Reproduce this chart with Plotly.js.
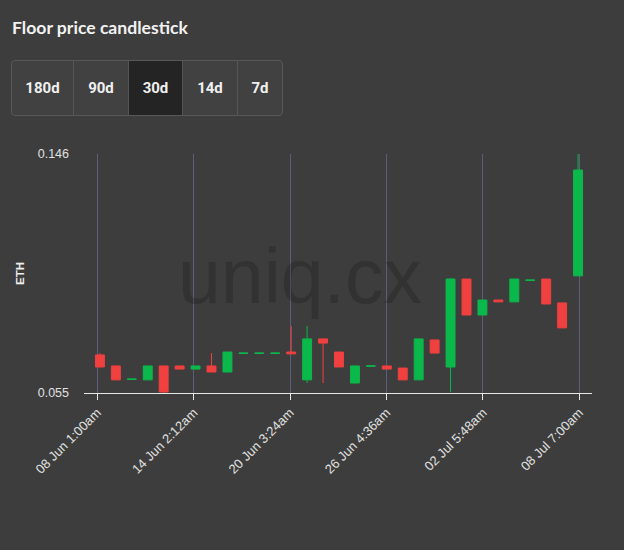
<!DOCTYPE html>
<html>
<head>
<meta charset="utf-8">
<script src="https://cdn.plot.ly/plotly-3.0.1.min.js"></script>
<style>
  html, body { margin: 0; padding: 0; background: #3d3d3d; width: 624px; height: 550px; overflow: hidden; }
  #chart { position: absolute; left: 0; top: 0; width: 624px; height: 550px; }
  #hdr { position: absolute; left: 12px; top: 17px; font-family: Lato, "Noto Sans", sans-serif; font-weight: 700; font-size: 17.6px; color: #f2f2f2; z-index: 2; }
  #btns { position: absolute; left: 11px; top: 60px; height: 54px; display: flex; border: 1px solid #585858; border-radius: 4px; overflow: hidden; z-index: 2; background: #414141; }
  .b { font-family: Roboto, "Liberation Sans", sans-serif; font-weight: 700; font-size: 15px; color: #f0f0f0; display: flex; align-items: center; justify-content: center; border-right: 1px solid #555; }
  .b:last-child { border-right: none; }
  .sel { background: #242424; }
</style>
</head>
<body>
<div id="chart"></div>
<div id="hdr">Floor price candlestick</div>
<div id="btns"></div>
<script>
const ranges = ["180d", "90d", "30d", "14d", "7d"];
const rangeWidths = [61, 54, 53, 54, 44];
const selectedRange = "30d";

const dates = [
  "2022-06-08 05:00", "2022-06-09 05:00", "2022-06-10 05:00", "2022-06-11 05:00", "2022-06-12 05:00",
  "2022-06-13 05:00", "2022-06-14 05:00", "2022-06-15 05:00", "2022-06-16 05:00", "2022-06-17 05:00",
  "2022-06-18 05:00", "2022-06-19 05:00", "2022-06-20 05:00", "2022-06-21 05:00", "2022-06-22 05:00",
  "2022-06-23 05:00", "2022-06-24 05:00", "2022-06-25 05:00", "2022-06-26 05:00", "2022-06-27 05:00",
  "2022-06-28 05:00", "2022-06-29 05:00", "2022-06-30 05:00", "2022-07-01 05:00", "2022-07-02 05:00",
  "2022-07-03 05:00", "2022-07-04 05:00", "2022-07-05 05:00", "2022-07-06 05:00", "2022-07-07 05:00",
  "2022-07-08 05:00"
];
const openP  = [0.0695, 0.0653, 0.0602, 0.0600, 0.0653, 0.0653, 0.0641, 0.0653, 0.0630, 0.0701,
                0.0701, 0.0701, 0.0706, 0.0600, 0.0756, 0.0706, 0.0588, 0.0652, 0.0653, 0.0645,
                0.0600, 0.0752, 0.0649, 0.0984, 0.0847, 0.0904, 0.0897, 0.0979, 0.0984, 0.0893,
                0.0996];
const highP  = [0.0702, 0.0653, 0.0603, 0.0653, 0.0653, 0.0653, 0.0653, 0.0702, 0.0706, 0.0702,
                0.0702, 0.0702, 0.0805, 0.0805, 0.0756, 0.0706, 0.0653, 0.0653, 0.0653, 0.0645,
                0.0756, 0.0752, 0.0988, 0.0984, 0.0904, 0.0904, 0.0984, 0.0980, 0.0984, 0.0893,
                0.1460];
const lowP   = [0.0649, 0.0600, 0.0602, 0.0600, 0.0550, 0.0641, 0.0641, 0.0630, 0.0630, 0.0701,
                0.0701, 0.0701, 0.0699, 0.0588, 0.0588, 0.0649, 0.0588, 0.0652, 0.0641, 0.0600,
                0.0600, 0.0702, 0.0554, 0.0847, 0.0847, 0.0897, 0.0897, 0.0979, 0.0889, 0.0798,
                0.0996];
const closeP = [0.0649, 0.0600, 0.0603, 0.0653, 0.0554, 0.0641, 0.0653, 0.0630, 0.0706, 0.0702,
                0.0702, 0.0702, 0.0699, 0.0756, 0.0740, 0.0649, 0.0653, 0.0653, 0.0641, 0.0600,
                0.0756, 0.0702, 0.0984, 0.0847, 0.0904, 0.0897, 0.0984, 0.0980, 0.0889, 0.0798,
                0.1399];

const tickDates = ["2022-06-08 01:00", "2022-06-14 02:12", "2022-06-20 03:24", "2022-06-26 04:36", "2022-07-02 05:48", "2022-07-08 07:00"];
const tickLabels = ["08 Jun 1:00am", "14 Jun 2:12am", "20 Jun 3:24am", "26 Jun 4:36am", "02 Jul 5:48am", "08 Jul 7:00am"];
const yTicks = [0.055, 0.146];
const yTickLabels = ["0.055", "0.146"];

// header buttons
const btns = document.getElementById('btns');
ranges.forEach((r, i) => {
  const d = document.createElement('div');
  d.className = 'b' + (r === selectedRange ? ' sel' : '');
  d.style.width = rangeWidths[i] + 'px';
  d.textContent = r;
  btns.appendChild(d);
});

const green = '#0bb84b';
const red = '#f0403f';

const trace = {
  type: 'candlestick',
  x: dates, open: openP, high: highP, low: lowP, close: closeP,
  increasing: { line: { color: green, width: 1 }, fillcolor: green },
  decreasing: { line: { color: red, width: 1 }, fillcolor: red },
  whiskerwidth: 0,
  hoverinfo: 'none'
};

const layout = {
  width: 624, height: 550,
  paper_bgcolor: '#3d3d3d', plot_bgcolor: '#3d3d3d',
  margin: { l: 84, r: 32, t: 154, b: 157 },
  showlegend: false,
  boxgap: 0.2,
  font: { family: '"Liberation Sans", Arial, sans-serif', color: '#dddddd', size: 12 },
  xaxis: {
    type: 'date',
    range: ["2022-06-07 05:00", "2022-07-09 02:00"],
    rangeslider: { visible: false },
    tickmode: 'array', tickvals: tickDates, ticktext: tickLabels,
    tickangle: -45,
    showgrid: true, gridcolor: '#5c5f7c', gridwidth: 1,
    showline: true, linecolor: '#e8e8e8', linewidth: 1,
    ticks: 'outside', ticklen: 6, tickcolor: '#e8e8e8',
    zeroline: false,
    tickfont: { size: 13, color: '#e0e0e0' }
  },
  yaxis: {
    range: [0.055, 0.146],
    tickmode: 'array', tickvals: yTicks, ticktext: yTickLabels,
    showgrid: true, gridcolor: '#5c5f7c', gridwidth: 1,
    zeroline: false, showline: false,
    ticklabelstandoff: 14,
    tickfont: { size: 12.5, color: '#e0e0e0' },
    title: { text: 'ETH', font: { size: 11.5, color: '#eeeeee', family: '"Liberation Sans", Arial, sans-serif', weight: 'bold' }, standoff: 10 }
  },
  annotations: [{
    text: 'uniq.cx', xref: 'paper', yref: 'paper', x: 0.425, y: 0.49,
    xanchor: 'center', yanchor: 'middle', showarrow: false,
    font: { size: 77, color: 'rgba(0,0,0,0.18)', family: '"Liberation Sans", Arial, sans-serif' }
  }]
};

Plotly.newPlot('chart', [trace], layout, { staticPlot: true, displayModeBar: false });
</script>
</body>
</html>
